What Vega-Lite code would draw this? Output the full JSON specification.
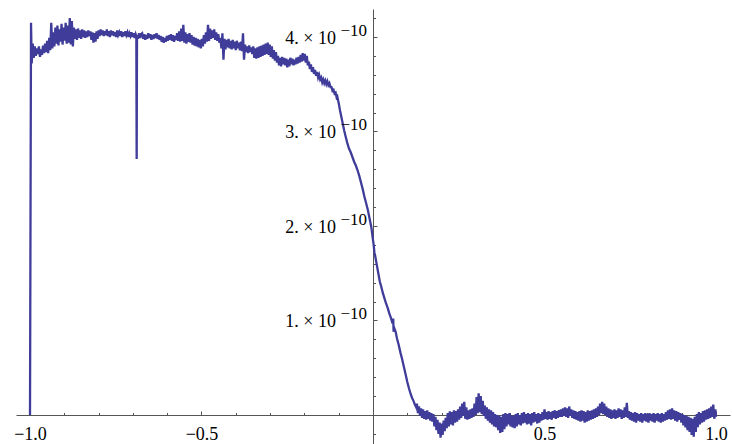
{
"$schema": "https://vega.github.io/schema/vega-lite/v6.json",
"autosize": "none",
"padding": {"left": 16, "top": 9, "right": 2, "bottom": 0},
"width": 714,
"height": 435,
"background": "white",
"config": {"view": {"stroke": null}, "axis": {"grid": false, "title": null}, "font": "Liberation Serif"},
"datasets": {
"curve": [
{"x":-1.000,"y":0.00e-10},{"x":-0.997,"y":4.15e-10},{"x":-0.995,"y":3.72e-10},{"x":-0.992,"y":3.93e-10},{"x":-0.989,"y":3.78e-10},{"x":-0.986,"y":3.90e-10},{"x":-0.983,"y":3.80e-10},{"x":-0.980,"y":3.88e-10},{"x":-0.977,"y":3.82e-10},{"x":-0.974,"y":3.90e-10},{"x":-0.971,"y":3.79e-10},{"x":-0.968,"y":3.87e-10},{"x":-0.965,"y":3.81e-10},{"x":-0.962,"y":3.91e-10},{"x":-0.959,"y":3.83e-10},{"x":-0.956,"y":3.93e-10},{"x":-0.953,"y":3.84e-10},{"x":-0.950,"y":3.96e-10},{"x":-0.947,"y":3.83e-10},{"x":-0.944,"y":3.99e-10},{"x":-0.941,"y":3.86e-10},{"x":-0.938,"y":4.15e-10},{"x":-0.935,"y":3.88e-10},{"x":-0.932,"y":4.05e-10},{"x":-0.929,"y":3.90e-10},{"x":-0.926,"y":4.10e-10},{"x":-0.923,"y":3.93e-10},{"x":-0.920,"y":4.12e-10},{"x":-0.917,"y":3.91e-10},{"x":-0.914,"y":4.08e-10},{"x":-0.911,"y":3.95e-10},{"x":-0.908,"y":4.14e-10},{"x":-0.905,"y":3.92e-10},{"x":-0.902,"y":4.10e-10},{"x":-0.899,"y":3.96e-10},{"x":-0.896,"y":4.15e-10},{"x":-0.893,"y":3.93e-10},{"x":-0.890,"y":4.12e-10},{"x":-0.887,"y":3.94e-10},{"x":-0.884,"y":4.20e-10},{"x":-0.881,"y":3.92e-10},{"x":-0.878,"y":4.17e-10},{"x":-0.875,"y":3.90e-10},{"x":-0.872,"y":4.10e-10},{"x":-0.869,"y":3.98e-10},{"x":-0.866,"y":4.08e-10},{"x":-0.863,"y":3.97e-10},{"x":-0.860,"y":4.09e-10},{"x":-0.857,"y":3.99e-10},{"x":-0.854,"y":4.07e-10},{"x":-0.851,"y":3.98e-10},{"x":-0.848,"y":4.08e-10},{"x":-0.845,"y":4.00e-10},{"x":-0.842,"y":4.07e-10},{"x":-0.839,"y":3.99e-10},{"x":-0.836,"y":4.06e-10},{"x":-0.833,"y":4.00e-10},{"x":-0.830,"y":4.07e-10},{"x":-0.827,"y":4.01e-10},{"x":-0.824,"y":4.06e-10},{"x":-0.821,"y":3.97e-10},{"x":-0.818,"y":4.05e-10},{"x":-0.815,"y":3.94e-10},{"x":-0.812,"y":4.04e-10},{"x":-0.809,"y":3.95e-10},{"x":-0.806,"y":4.06e-10},{"x":-0.803,"y":3.98e-10},{"x":-0.800,"y":4.07e-10},{"x":-0.797,"y":4.01e-10},{"x":-0.794,"y":4.08e-10},{"x":-0.791,"y":4.02e-10},{"x":-0.788,"y":4.07e-10},{"x":-0.785,"y":4.01e-10},{"x":-0.782,"y":4.06e-10},{"x":-0.779,"y":4.02e-10},{"x":-0.776,"y":4.08e-10},{"x":-0.773,"y":4.01e-10},{"x":-0.770,"y":4.06e-10},{"x":-0.767,"y":4.00e-10},{"x":-0.764,"y":4.07e-10},{"x":-0.761,"y":4.02e-10},{"x":-0.758,"y":4.06e-10},{"x":-0.755,"y":4.01e-10},{"x":-0.752,"y":4.05e-10},{"x":-0.749,"y":4.00e-10},{"x":-0.746,"y":4.07e-10},{"x":-0.743,"y":4.02e-10},{"x":-0.740,"y":4.05e-10},{"x":-0.737,"y":4.01e-10},{"x":-0.734,"y":4.06e-10},{"x":-0.731,"y":4.00e-10},{"x":-0.728,"y":4.05e-10},{"x":-0.725,"y":4.01e-10},{"x":-0.722,"y":4.06e-10},{"x":-0.719,"y":4.02e-10},{"x":-0.716,"y":4.05e-10},{"x":-0.713,"y":4.00e-10},{"x":-0.710,"y":4.04e-10},{"x":-0.707,"y":4.01e-10},{"x":-0.704,"y":4.05e-10},{"x":-0.701,"y":4.00e-10},{"x":-0.698,"y":4.04e-10},{"x":-0.695,"y":3.99e-10},{"x":-0.692,"y":4.03e-10},{"x":-0.690,"y":4.01e-10},{"x":-0.689,"y":2.71e-10},{"x":-0.688,"y":4.02e-10},{"x":-0.685,"y":3.98e-10},{"x":-0.682,"y":4.04e-10},{"x":-0.679,"y":3.99e-10},{"x":-0.676,"y":4.03e-10},
{"x":-0.673,"y":4.04e-10},{"x":-0.670,"y":3.98e-10},{"x":-0.667,"y":4.03e-10},{"x":-0.664,"y":3.97e-10},{"x":-0.661,"y":4.02e-10},{"x":-0.658,"y":3.98e-10},{"x":-0.655,"y":4.04e-10},{"x":-0.652,"y":3.99e-10},{"x":-0.649,"y":4.03e-10},{"x":-0.646,"y":3.97e-10},{"x":-0.643,"y":4.02e-10},{"x":-0.640,"y":3.98e-10},{"x":-0.637,"y":4.03e-10},{"x":-0.634,"y":3.99e-10},{"x":-0.631,"y":4.04e-10},{"x":-0.628,"y":3.98e-10},{"x":-0.625,"y":4.02e-10},{"x":-0.622,"y":3.97e-10},{"x":-0.619,"y":4.01e-10},{"x":-0.616,"y":3.95e-10},{"x":-0.613,"y":4.00e-10},{"x":-0.610,"y":3.94e-10},{"x":-0.607,"y":3.99e-10},{"x":-0.604,"y":3.95e-10},{"x":-0.601,"y":4.01e-10},{"x":-0.598,"y":3.96e-10},{"x":-0.595,"y":4.02e-10},{"x":-0.592,"y":3.97e-10},{"x":-0.589,"y":4.03e-10},{"x":-0.586,"y":3.96e-10},{"x":-0.583,"y":4.02e-10},{"x":-0.580,"y":3.95e-10},{"x":-0.577,"y":4.01e-10},{"x":-0.574,"y":3.97e-10},{"x":-0.571,"y":4.04e-10},{"x":-0.568,"y":3.96e-10},{"x":-0.565,"y":4.06e-10},{"x":-0.562,"y":3.95e-10},{"x":-0.559,"y":4.09e-10},{"x":-0.556,"y":3.96e-10},{"x":-0.553,"y":4.13e-10},{"x":-0.550,"y":3.94e-10},{"x":-0.547,"y":4.05e-10},{"x":-0.544,"y":3.93e-10},{"x":-0.541,"y":4.03e-10},{"x":-0.538,"y":3.95e-10},{"x":-0.535,"y":4.04e-10},{"x":-0.532,"y":3.94e-10},{"x":-0.529,"y":4.02e-10},{"x":-0.526,"y":3.92e-10},{"x":-0.523,"y":4.00e-10},{"x":-0.520,"y":3.91e-10},{"x":-0.517,"y":3.99e-10},{"x":-0.514,"y":3.90e-10},{"x":-0.511,"y":3.98e-10},{"x":-0.508,"y":3.89e-10},{"x":-0.505,"y":3.97e-10},{"x":-0.502,"y":3.88e-10},{"x":-0.499,"y":3.98e-10},{"x":-0.496,"y":3.90e-10},{"x":-0.493,"y":4.02e-10},{"x":-0.490,"y":3.93e-10},{"x":-0.487,"y":4.05e-10},{"x":-0.484,"y":3.95e-10},{"x":-0.481,"y":4.13e-10},{"x":-0.478,"y":3.96e-10},{"x":-0.475,"y":4.09e-10},{"x":-0.472,"y":3.98e-10},{"x":-0.469,"y":4.07e-10},{"x":-0.466,"y":3.99e-10},{"x":-0.463,"y":4.08e-10},{"x":-0.460,"y":3.97e-10},{"x":-0.457,"y":4.05e-10},{"x":-0.454,"y":3.96e-10},{"x":-0.451,"y":4.03e-10},{"x":-0.448,"y":3.94e-10},
{"x":-0.445,"y":3.99e-10},{"x":-0.442,"y":3.88e-10},{"x":-0.439,"y":4.04e-10},{"x":-0.436,"y":3.76e-10},{"x":-0.433,"y":3.98e-10},{"x":-0.430,"y":3.87e-10},{"x":-0.427,"y":3.97e-10},{"x":-0.424,"y":3.89e-10},{"x":-0.421,"y":3.98e-10},{"x":-0.418,"y":3.88e-10},{"x":-0.415,"y":3.96e-10},{"x":-0.412,"y":3.87e-10},{"x":-0.409,"y":3.97e-10},{"x":-0.406,"y":3.88e-10},{"x":-0.403,"y":3.95e-10},{"x":-0.400,"y":3.86e-10},{"x":-0.397,"y":3.96e-10},{"x":-0.394,"y":3.88e-10},{"x":-0.391,"y":3.94e-10},{"x":-0.388,"y":3.86e-10},{"x":-0.385,"y":3.95e-10},{"x":-0.382,"y":3.85e-10},{"x":-0.379,"y":4.04e-10},{"x":-0.376,"y":3.76e-10},{"x":-0.373,"y":3.92e-10},{"x":-0.370,"y":3.84e-10},{"x":-0.367,"y":3.90e-10},{"x":-0.364,"y":3.83e-10},{"x":-0.361,"y":3.91e-10},{"x":-0.358,"y":3.84e-10},{"x":-0.355,"y":3.89e-10},{"x":-0.352,"y":3.82e-10},{"x":-0.349,"y":3.90e-10},
{"x":-0.346,"y":3.78e-10},{"x":-0.343,"y":3.88e-10},{"x":-0.340,"y":3.77e-10},{"x":-0.337,"y":3.89e-10},{"x":-0.334,"y":3.78e-10},{"x":-0.331,"y":3.90e-10},{"x":-0.328,"y":3.79e-10},{"x":-0.325,"y":3.91e-10},{"x":-0.322,"y":3.80e-10},{"x":-0.319,"y":3.92e-10},{"x":-0.316,"y":3.81e-10},{"x":-0.313,"y":3.93e-10},{"x":-0.310,"y":3.82e-10},{"x":-0.307,"y":3.94e-10},{"x":-0.304,"y":3.81e-10},{"x":-0.301,"y":3.92e-10},{"x":-0.298,"y":3.79e-10},{"x":-0.295,"y":3.90e-10},{"x":-0.292,"y":3.77e-10},{"x":-0.289,"y":3.86e-10},{"x":-0.286,"y":3.75e-10},{"x":-0.283,"y":3.84e-10},{"x":-0.280,"y":3.73e-10},
{"x":-0.277,"y":3.80e-10},{"x":-0.274,"y":3.70e-10},{"x":-0.271,"y":3.78e-10},{"x":-0.268,"y":3.69e-10},{"x":-0.265,"y":3.79e-10},{"x":-0.262,"y":3.71e-10},{"x":-0.259,"y":3.78e-10},{"x":-0.256,"y":3.70e-10},{"x":-0.253,"y":3.77e-10},{"x":-0.250,"y":3.68e-10},{"x":-0.247,"y":3.76e-10},{"x":-0.244,"y":3.69e-10},{"x":-0.241,"y":3.78e-10},{"x":-0.238,"y":3.71e-10},{"x":-0.235,"y":3.77e-10},{"x":-0.232,"y":3.70e-10},{"x":-0.229,"y":3.76e-10},{"x":-0.226,"y":3.71e-10},{"x":-0.223,"y":3.78e-10},{"x":-0.220,"y":3.72e-10},{"x":-0.217,"y":3.79e-10},{"x":-0.214,"y":3.73e-10},
{"x":-0.211,"y":3.81e-10},{"x":-0.208,"y":3.74e-10},{"x":-0.205,"y":3.83e-10},{"x":-0.202,"y":3.75e-10},{"x":-0.199,"y":3.82e-10},{"x":-0.196,"y":3.73e-10},{"x":-0.193,"y":3.80e-10},{"x":-0.190,"y":3.70e-10},
{"x":-0.187,"y":3.74e-10},{"x":-0.184,"y":3.66e-10},{"x":-0.181,"y":3.71e-10},{"x":-0.178,"y":3.63e-10},{"x":-0.175,"y":3.68e-10},{"x":-0.172,"y":3.61e-10},{"x":-0.169,"y":3.65e-10},{"x":-0.166,"y":3.59e-10},{"x":-0.163,"y":3.63e-10},{"x":-0.160,"y":3.57e-10},{"x":-0.157,"y":3.60e-10},{"x":-0.154,"y":3.55e-10},
{"x":-0.151,"y":3.57e-10},{"x":-0.148,"y":3.52e-10},{"x":-0.145,"y":3.55e-10},{"x":-0.142,"y":3.51e-10},{"x":-0.139,"y":3.54e-10},{"x":-0.136,"y":3.50e-10},{"x":-0.133,"y":3.53e-10},{"x":-0.130,"y":3.49e-10},{"x":-0.127,"y":3.51e-10},{"x":-0.124,"y":3.47e-10},
{"x":-0.121,"y":3.47e-10},{"x":-0.118,"y":3.43e-10},{"x":-0.115,"y":3.44e-10},{"x":-0.112,"y":3.40e-10},{"x":-0.109,"y":3.41e-10},{"x":-0.106,"y":3.36e-10},
{"x":-0.104,"y":3.37e-10},{"x":-0.100,"y":3.30e-10},{"x":-0.096,"y":3.22e-10},{"x":-0.092,"y":3.15e-10},{"x":-0.088,"y":3.08e-10},{"x":-0.084,"y":3.01e-10},{"x":-0.080,"y":2.95e-10},{"x":-0.075,"y":2.88e-10},{"x":-0.070,"y":2.82e-10},{"x":-0.065,"y":2.78e-10},{"x":-0.060,"y":2.73e-10},{"x":-0.055,"y":2.68e-10},{"x":-0.050,"y":2.64e-10},{"x":-0.045,"y":2.59e-10},{"x":-0.040,"y":2.53e-10},{"x":-0.035,"y":2.46e-10},{"x":-0.030,"y":2.39e-10},{"x":-0.025,"y":2.31e-10},{"x":-0.020,"y":2.24e-10},{"x":-0.015,"y":2.17e-10},{"x":-0.010,"y":2.08e-10},{"x":-0.005,"y":1.99e-10},{"x":0.000,"y":1.85e-10},{"x":0.002,"y":1.80e-10},{"x":0.004,"y":1.72e-10},{"x":0.006,"y":1.69e-10},{"x":0.009,"y":1.63e-10},{"x":0.012,"y":1.57e-10},{"x":0.016,"y":1.49e-10},{"x":0.020,"y":1.41e-10},{"x":0.024,"y":1.36e-10},{"x":0.028,"y":1.30e-10},{"x":0.033,"y":1.24e-10},{"x":0.038,"y":1.18e-10},{"x":0.043,"y":1.13e-10},{"x":0.048,"y":1.07e-10},{"x":0.053,"y":1.02e-10},{"x":0.057,"y":0.97e-10},{"x":0.059,"y":1.02e-10},{"x":0.060,"y":0.88e-10},{"x":0.062,"y":0.92e-10},{"x":0.066,"y":0.88e-10},{"x":0.070,"y":0.81e-10},{"x":0.075,"y":0.74e-10},{"x":0.080,"y":0.66e-10},{"x":0.085,"y":0.59e-10},{"x":0.090,"y":0.51e-10},{"x":0.095,"y":0.43e-10},{"x":0.100,"y":0.35e-10},{"x":0.105,"y":0.28e-10},{"x":0.110,"y":0.22e-10},{"x":0.114,"y":0.18e-10},{"x":0.118,"y":0.15e-10},{"x":0.122,"y":0.11e-10},{"x":0.126,"y":0.08e-10},
{"x":0.128,"y":0.12e-10},{"x":0.131,"y":0.02e-10},{"x":0.134,"y":0.09e-10},{"x":0.137,"y":-0.01e-10},{"x":0.140,"y":0.07e-10},{"x":0.143,"y":-0.03e-10},{"x":0.146,"y":0.06e-10},{"x":0.149,"y":-0.04e-10},{"x":0.152,"y":0.04e-10},{"x":0.155,"y":-0.05e-10},{"x":0.158,"y":0.05e-10},{"x":0.161,"y":-0.04e-10},{"x":0.164,"y":0.03e-10},{"x":0.167,"y":-0.06e-10},{"x":0.170,"y":0.02e-10},{"x":0.173,"y":-0.07e-10},{"x":0.176,"y":0.01e-10},{"x":0.179,"y":-0.12e-10},{"x":0.182,"y":-0.02e-10},{"x":0.185,"y":-0.16e-10},{"x":0.188,"y":-0.05e-10},{"x":0.191,"y":-0.20e-10},{"x":0.194,"y":-0.08e-10},{"x":0.197,"y":-0.24e-10},{"x":0.200,"y":-0.09e-10},{"x":0.203,"y":-0.21e-10},{"x":0.206,"y":-0.06e-10},{"x":0.209,"y":-0.17e-10},{"x":0.212,"y":-0.03e-10},{"x":0.215,"y":-0.14e-10},{"x":0.218,"y":0.02e-10},{"x":0.221,"y":-0.12e-10},{"x":0.224,"y":0.04e-10},{"x":0.227,"y":-0.10e-10},{"x":0.230,"y":0.03e-10},{"x":0.233,"y":-0.11e-10},{"x":0.236,"y":0.05e-10},{"x":0.239,"y":-0.08e-10},{"x":0.242,"y":0.04e-10},{"x":0.245,"y":-0.07e-10},{"x":0.248,"y":0.06e-10},{"x":0.251,"y":-0.05e-10},{"x":0.254,"y":0.09e-10},{"x":0.257,"y":-0.03e-10},{"x":0.260,"y":0.12e-10},{"x":0.263,"y":-0.01e-10},{"x":0.266,"y":0.14e-10},{"x":0.269,"y":-0.04e-10},{"x":0.272,"y":0.08e-10},{"x":0.275,"y":-0.05e-10},{"x":0.278,"y":0.05e-10},{"x":0.281,"y":-0.04e-10},{"x":0.284,"y":0.06e-10},{"x":0.287,"y":-0.03e-10},{"x":0.290,"y":0.07e-10},{"x":0.293,"y":-0.02e-10},{"x":0.296,"y":0.12e-10},{"x":0.299,"y":0.00e-10},{"x":0.302,"y":0.19e-10},{"x":0.305,"y":0.02e-10},{"x":0.308,"y":0.23e-10},{"x":0.311,"y":0.03e-10},{"x":0.314,"y":0.20e-10},{"x":0.317,"y":0.01e-10},{"x":0.320,"y":0.15e-10},{"x":0.323,"y":-0.01e-10},{"x":0.326,"y":0.10e-10},{"x":0.329,"y":-0.04e-10},{"x":0.332,"y":0.08e-10},{"x":0.335,"y":-0.06e-10},{"x":0.338,"y":0.06e-10},{"x":0.341,"y":-0.08e-10},{"x":0.344,"y":0.05e-10},{"x":0.347,"y":-0.10e-10},{"x":0.350,"y":0.03e-10},{"x":0.353,"y":-0.12e-10},{"x":0.356,"y":0.01e-10},{"x":0.359,"y":-0.13e-10},{"x":0.362,"y":0.00e-10},{"x":0.365,"y":-0.16e-10},{"x":0.368,"y":-0.01e-10},{"x":0.371,"y":-0.19e-10},{"x":0.374,"y":-0.02e-10},{"x":0.377,"y":-0.18e-10},{"x":0.380,"y":0.01e-10},{"x":0.383,"y":-0.15e-10},{"x":0.386,"y":0.02e-10},{"x":0.389,"y":-0.12e-10},{"x":0.392,"y":0.01e-10},{"x":0.395,"y":-0.10e-10},{"x":0.398,"y":0.02e-10},{"x":0.401,"y":-0.12e-10},{"x":0.404,"y":0.00e-10},{"x":0.407,"y":-0.13e-10},{"x":0.410,"y":-0.01e-10},{"x":0.413,"y":-0.14e-10},{"x":0.416,"y":0.01e-10},{"x":0.419,"y":-0.12e-10},{"x":0.422,"y":0.02e-10},{"x":0.425,"y":-0.10e-10},{"x":0.428,"y":0.00e-10},{"x":0.431,"y":-0.11e-10},{"x":0.434,"y":0.02e-10},{"x":0.437,"y":-0.09e-10},{"x":0.440,"y":0.03e-10},{"x":0.443,"y":-0.08e-10},{"x":0.446,"y":0.01e-10},{"x":0.449,"y":-0.10e-10},{"x":0.452,"y":0.02e-10},{"x":0.455,"y":-0.09e-10},{"x":0.458,"y":0.01e-10},{"x":0.461,"y":-0.11e-10},{"x":0.464,"y":0.02e-10},{"x":0.467,"y":-0.08e-10},{"x":0.470,"y":0.03e-10},{"x":0.473,"y":-0.07e-10},{"x":0.476,"y":0.01e-10},{"x":0.479,"y":-0.09e-10},{"x":0.482,"y":0.02e-10},{"x":0.485,"y":-0.08e-10},{"x":0.488,"y":0.01e-10},{"x":0.491,"y":-0.06e-10},{"x":0.494,"y":0.03e-10},{"x":0.497,"y":-0.05e-10},{"x":0.500,"y":0.06e-10},{"x":0.503,"y":-0.04e-10},{"x":0.506,"y":0.03e-10},{"x":0.509,"y":-0.05e-10},{"x":0.512,"y":0.04e-10},{"x":0.515,"y":-0.04e-10},{"x":0.518,"y":0.03e-10},{"x":0.521,"y":-0.05e-10},{"x":0.524,"y":0.04e-10},{"x":0.527,"y":-0.03e-10},{"x":0.530,"y":0.05e-10},{"x":0.533,"y":-0.04e-10},{"x":0.536,"y":0.04e-10},{"x":0.539,"y":-0.03e-10},{"x":0.542,"y":0.05e-10},{"x":0.545,"y":-0.02e-10},{"x":0.548,"y":0.06e-10},{"x":0.551,"y":-0.02e-10},{"x":0.554,"y":0.07e-10},{"x":0.557,"y":-0.01e-10},{"x":0.560,"y":0.08e-10},{"x":0.563,"y":-0.02e-10},{"x":0.566,"y":0.07e-10},{"x":0.569,"y":-0.03e-10},{"x":0.572,"y":0.09e-10},{"x":0.575,"y":-0.01e-10},{"x":0.578,"y":0.06e-10},{"x":0.581,"y":-0.03e-10},{"x":0.584,"y":0.05e-10},{"x":0.587,"y":-0.04e-10},{"x":0.590,"y":0.04e-10},{"x":0.593,"y":-0.05e-10},{"x":0.596,"y":0.03e-10},{"x":0.599,"y":-0.06e-10},{"x":0.602,"y":0.04e-10},{"x":0.605,"y":-0.07e-10},{"x":0.608,"y":0.05e-10},{"x":0.611,"y":-0.06e-10},{"x":0.614,"y":0.04e-10},{"x":0.617,"y":-0.08e-10},{"x":0.620,"y":0.03e-10},{"x":0.623,"y":-0.07e-10},{"x":0.626,"y":0.05e-10},{"x":0.629,"y":-0.06e-10},{"x":0.632,"y":0.04e-10},{"x":0.635,"y":-0.05e-10},{"x":0.638,"y":0.05e-10},{"x":0.641,"y":-0.04e-10},{"x":0.644,"y":0.06e-10},{"x":0.647,"y":-0.03e-10},{"x":0.650,"y":0.07e-10},{"x":0.653,"y":-0.02e-10},{"x":0.656,"y":0.09e-10},{"x":0.659,"y":0.00e-10},{"x":0.662,"y":0.12e-10},{"x":0.665,"y":0.02e-10},{"x":0.668,"y":0.14e-10},{"x":0.671,"y":0.01e-10},{"x":0.674,"y":0.12e-10},{"x":0.677,"y":0.00e-10},{"x":0.680,"y":0.09e-10},{"x":0.683,"y":-0.02e-10},{"x":0.686,"y":0.07e-10},{"x":0.689,"y":-0.03e-10},{"x":0.692,"y":0.06e-10},{"x":0.695,"y":-0.04e-10},{"x":0.698,"y":0.05e-10},{"x":0.701,"y":-0.03e-10},{"x":0.704,"y":0.06e-10},{"x":0.707,"y":-0.04e-10},{"x":0.710,"y":0.05e-10},{"x":0.713,"y":-0.03e-10},{"x":0.716,"y":0.07e-10},{"x":0.719,"y":-0.02e-10},{"x":0.722,"y":0.06e-10},{"x":0.725,"y":-0.04e-10},{"x":0.728,"y":0.05e-10},{"x":0.731,"y":-0.03e-10},{"x":0.734,"y":0.08e-10},{"x":0.737,"y":-0.02e-10},{"x":0.740,"y":0.13e-10},{"x":0.743,"y":-0.03e-10},{"x":0.746,"y":0.04e-10},{"x":0.749,"y":-0.05e-10},{"x":0.752,"y":0.03e-10},{"x":0.755,"y":-0.06e-10},{"x":0.758,"y":0.02e-10},{"x":0.761,"y":-0.07e-10},{"x":0.764,"y":0.03e-10},{"x":0.767,"y":-0.08e-10},{"x":0.770,"y":0.02e-10},{"x":0.773,"y":-0.06e-10},{"x":0.776,"y":0.01e-10},{"x":0.779,"y":-0.07e-10},{"x":0.782,"y":0.02e-10},{"x":0.785,"y":-0.08e-10},{"x":0.788,"y":0.01e-10},{"x":0.791,"y":-0.06e-10},{"x":0.794,"y":0.02e-10},{"x":0.797,"y":-0.07e-10},{"x":0.800,"y":0.01e-10},{"x":0.803,"y":-0.08e-10},{"x":0.806,"y":0.02e-10},{"x":0.809,"y":-0.06e-10},{"x":0.812,"y":0.01e-10},{"x":0.815,"y":-0.07e-10},{"x":0.818,"y":0.02e-10},{"x":0.821,"y":-0.08e-10},{"x":0.824,"y":0.01e-10},{"x":0.827,"y":-0.06e-10},{"x":0.830,"y":0.02e-10},{"x":0.833,"y":-0.07e-10},{"x":0.836,"y":0.01e-10},{"x":0.839,"y":-0.08e-10},{"x":0.842,"y":0.02e-10},{"x":0.845,"y":-0.07e-10},{"x":0.848,"y":0.01e-10},{"x":0.851,"y":-0.06e-10},{"x":0.854,"y":0.03e-10},{"x":0.857,"y":-0.05e-10},{"x":0.860,"y":0.05e-10},{"x":0.863,"y":-0.04e-10},{"x":0.866,"y":0.06e-10},{"x":0.869,"y":-0.05e-10},{"x":0.872,"y":0.07e-10},{"x":0.875,"y":-0.04e-10},{"x":0.878,"y":0.05e-10},{"x":0.881,"y":-0.06e-10},{"x":0.884,"y":0.04e-10},{"x":0.887,"y":-0.07e-10},{"x":0.890,"y":0.03e-10},{"x":0.893,"y":-0.05e-10},{"x":0.896,"y":0.02e-10},{"x":0.899,"y":-0.08e-10},{"x":0.902,"y":0.01e-10},{"x":0.905,"y":-0.11e-10},{"x":0.908,"y":0.00e-10},{"x":0.911,"y":-0.13e-10},{"x":0.914,"y":-0.01e-10},{"x":0.917,"y":-0.16e-10},{"x":0.920,"y":-0.02e-10},{"x":0.923,"y":-0.18e-10},{"x":0.926,"y":-0.03e-10},{"x":0.929,"y":-0.21e-10},{"x":0.932,"y":-0.04e-10},{"x":0.935,"y":-0.23e-10},{"x":0.938,"y":-0.02e-10},{"x":0.941,"y":-0.18e-10},{"x":0.944,"y":0.01e-10},{"x":0.947,"y":-0.13e-10},{"x":0.950,"y":0.03e-10},{"x":0.953,"y":-0.10e-10},{"x":0.956,"y":0.02e-10},{"x":0.959,"y":-0.08e-10},{"x":0.962,"y":0.04e-10},{"x":0.965,"y":-0.07e-10},{"x":0.968,"y":0.05e-10},{"x":0.971,"y":-0.05e-10},{"x":0.974,"y":0.06e-10},{"x":0.977,"y":-0.04e-10},{"x":0.980,"y":0.07e-10},{"x":0.983,"y":-0.03e-10},{"x":0.986,"y":0.09e-10},{"x":0.989,"y":-0.02e-10},{"x":0.992,"y":0.11e-10},{"x":0.995,"y":-0.04e-10},{"x":0.998,"y":0.06e-10},{"x":1.000,"y":-0.02e-10}
],
"ylab": [
{"v":1e-10,"m":"1. × 10","s":"−10"},
{"v":2e-10,"m":"2. × 10","s":"−10"},
{"v":3e-10,"m":"3. × 10","s":"−10"},
{"v":4e-10,"m":"4. × 10","s":"−10"}
]
},
"layer": [
{
"data": {"name": "curve"},
"mark": {"type": "line", "color": "#3f3d99", "strokeWidth": 2.3, "clip": true, "interpolate": "linear"},
"encoding": {
"x": {"field": "x", "type": "quantitative",
"scale": {"domain": [-1.0408, 1.0408], "nice": false, "zero": false},
"axis": {"orient": "bottom", "offset": -29, "values": [-1, -0.5, 0.5, 1], "format": ".1f",
"domain": true, "domainColor": "#555", "domainWidth": 1,
"ticks": true, "tickSize": -4, "tickColor": "#555", "tickWidth": 1,
"labels": true, "labelFont": "Liberation Serif", "labelFontSize": 18, "labelColor": "black",
"labelBaseline": "alphabetic", "labelPadding": 28, "labelFlush": false, "labelOverlap": false, "labelBound": false,
"grid": false, "title": null}},
"y": {"field": "y", "type": "quantitative",
"scale": {"domain": [-3.069e-11, 4.2963e-10], "nice": false, "zero": false},
"axis": {"orient": "left", "offset": -357, "values": [1e-10, 2e-10, 3e-10, 4e-10],
"domain": true, "domainColor": "#555", "domainWidth": 1,
"ticks": true, "tickSize": -4, "tickColor": "#555", "tickWidth": 1,
"labels": false, "grid": false, "title": null}}
}
},
{
"data": {"name": "ylab"},
"mark": {"type": "text", "align": "right", "baseline": "alphabetic", "dx": -37, "dy": 7, "font": "Liberation Serif", "fontSize": 18, "color": "black"},
"encoding": {
"x": {"datum": 0, "type": "quantitative",
"scale": {"domain": [-1.0408, 1.0408], "nice": false, "zero": false},
"axis": {"orient": "bottom", "offset": -29, "values": [-0.9, -0.8, -0.7, -0.6, -0.4, -0.3, -0.2, -0.1, 0.1, 0.2, 0.3, 0.4, 0.6, 0.7, 0.8, 0.9],
"domain": false, "ticks": true, "tickSize": -2.5, "tickColor": "#555", "tickWidth": 1, "labels": false, "grid": false, "title": null}},
"y": {"field": "v", "type": "quantitative",
"scale": {"domain": [-3.069e-11, 4.2963e-10], "nice": false, "zero": false},
"axis": {"orient": "left", "offset": -357, "values": [-2e-11, 2e-11, 4e-11, 6e-11, 8e-11, 1.2e-10, 1.4e-10, 1.6e-10, 1.8e-10, 2.2e-10, 2.4e-10, 2.6e-10, 2.8e-10, 3.2e-10, 3.4e-10, 3.6e-10, 3.8e-10, 4.2e-10],
"domain": false, "ticks": true, "tickSize": -2.5, "tickColor": "#555", "tickWidth": 1, "labels": false, "grid": false, "title": null}},
"text": {"field": "m"}
}
},
{
"data": {"name": "ylab"},
"mark": {"type": "text", "align": "right", "baseline": "alphabetic", "dx": -6, "dy": -1, "font": "Liberation Serif", "fontSize": 17, "color": "black"},
"encoding": {
"x": {"datum": 0, "type": "quantitative", "scale": {"domain": [-1.0408, 1.0408], "nice": false, "zero": false}, "axis": null},
"y": {"field": "v", "type": "quantitative", "scale": {"domain": [-3.069e-11, 4.2963e-10], "nice": false, "zero": false}, "axis": null},
"text": {"field": "s"}
}
}
],
"resolve": {"axis": {"x": "independent", "y": "independent"}}
}
